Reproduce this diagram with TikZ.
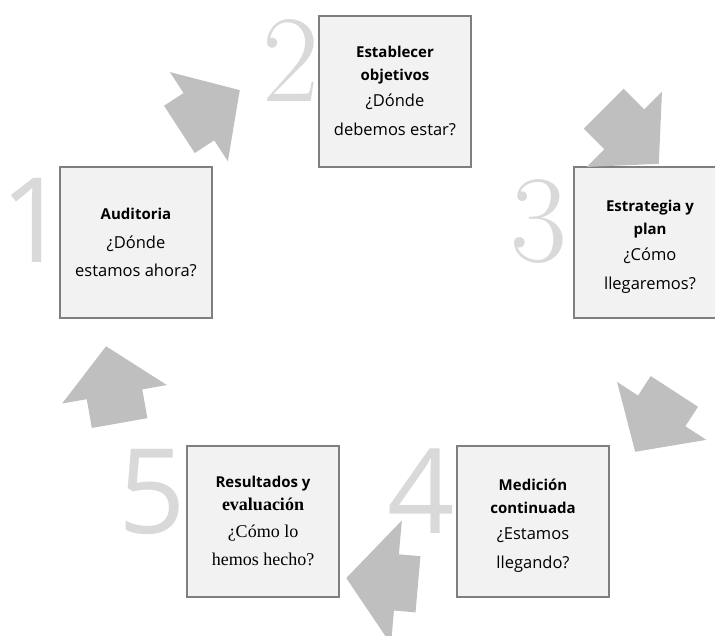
\documentclass[tikz,border=0pt]{standalone}
\usepackage{fontspec}
\setsansfont{Open Sans}
\newfontfamily\garfont{Liberation Serif}
\usetikzlibrary{shapes.arrows}

\definecolor{boxfill}{HTML}{F2F2F2}
\definecolor{boxline}{HTML}{7F7F7F}
\definecolor{arrowgray}{HTML}{BFBFBF}
\definecolor{digitgray}{HTML}{D9D9D9}

\newcommand{\hd}[1]{{\fontsize{15}{23}\selectfont\bfseries #1}}
\newcommand{\sr}[1]{{\garfont\fontsize{18}{23}\selectfont #1}}

\tikzset{
  stage/.style={draw=boxline, line width=2pt, fill=boxfill, minimum width=152pt, minimum height=151pt,
    align=center, inner sep=0pt, font=\sffamily\fontsize{16.5}{23}\selectfont},
  bigdigit/.style={text=digitgray, inner sep=0pt, anchor=base east},
  fatarrow/.style={single arrow, fill=arrowgray, anchor=tip, inner xsep=0pt, inner ysep=28pt,
    minimum height=78pt, single arrow head extend=25pt, single arrow tip angle=95}
}

\begin{document}
\begin{tikzpicture}[x=1pt, y=-1pt]
\useasboundingbox (0, 0) rectangle (715, 635);

% big step numbers
\path (68, 262) node[bigdigit, font=\sffamily\fontsize{118}{118}\selectfont] (num1) {1};
\path (320, 101) node[bigdigit, font=\fontsize{124}{124}\selectfont] (num2) {2};
\path (568, 261) node[bigdigit, font=\fontsize{124}{124}\selectfont] (num3) {3};
\path (455, 533) node[bigdigit, font=\sffamily\fontsize{118}{118}\selectfont] (num4) {4};
\path (186, 533) node[bigdigit, font=\sffamily\fontsize{118}{118}\selectfont] (num5) {5};

% the five stages
\path (136, 242) node[stage] (audit) {\hd{Auditoria}\\[6pt] ¿Dónde\\[5pt] estamos ahora?};
\path (395, 91) node[stage] (goals) {\hd{Establecer}\\ \hd{objetivos}\\[3pt] ¿Dónde\\[6pt] debemos estar?};
\path (650, 242) node[stage] (plan) {\hd{\rule{0pt}{21pt}Estrategia y}\\ \hd{plan}\\[3pt] ¿Cómo\\[6pt] llegaremos?};
\path (533, 521) node[stage] (measure) {\hd{\rule{0pt}{21pt}Medición}\\ \hd{continuada}\\[3pt] ¿Estamos\\[6pt] llegando?};
\path (263, 521) node[stage] (results) {\hd{Resultados y}\\ \sr{\bfseries evaluación}\\[4pt] \sr{¿Cómo lo}\\[5pt] \sr{hemos hecho?}};

% fat arrows between the stages
\path (240, 90) node[fatarrow, rotate=33, minimum height=72pt] (go12) {};
\path (659, 164) node[fatarrow, rotate=-45] (go23) {};
\path (635, 452) node[fatarrow, rotate=-123, minimum height=72pt] (go34) {};
\path (346, 578) node[fatarrow, rotate=175, single arrow head extend=34pt, single arrow tip angle=102, minimum height=72pt] (go45) {};
\path (106, 346) node[fatarrow, rotate=100] (go51) {};
\end{tikzpicture}
\end{document}
